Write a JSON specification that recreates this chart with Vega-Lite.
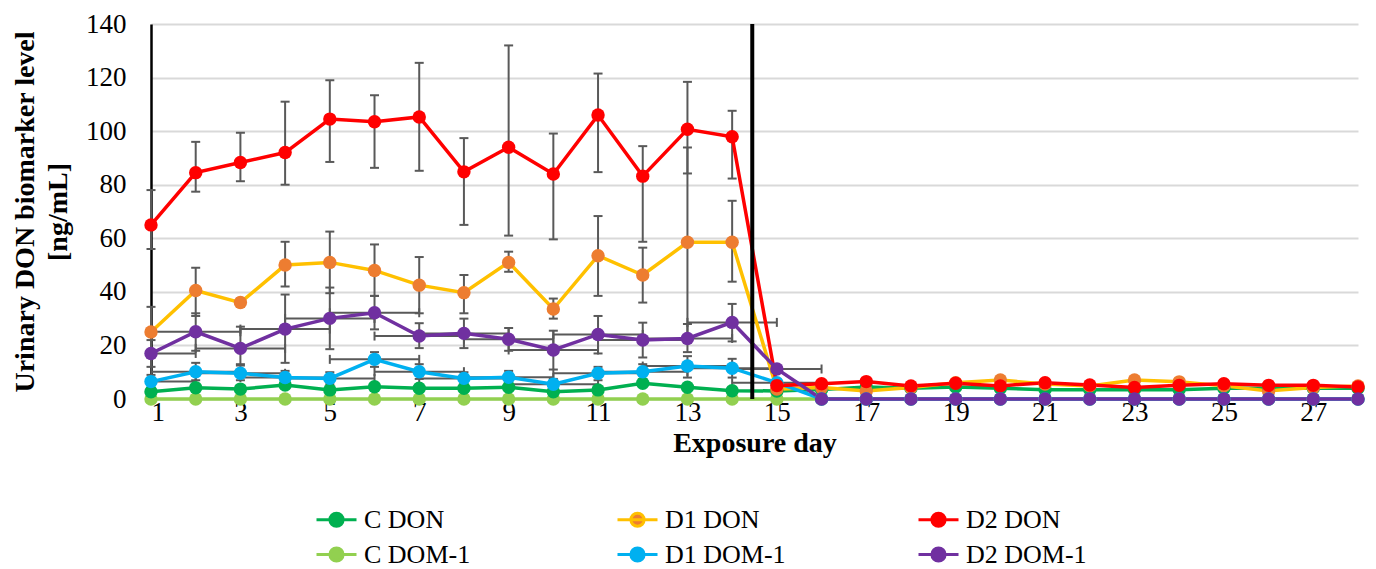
{
  "$schema": "https://vega.github.io/schema/vega-lite/v6.json",
  "width": 1207,
  "height": 375,
  "autosize": {"type": "none"},
  "padding": {"left": 151, "top": 24, "right": 18, "bottom": 170},
  "background": "white",
  "config": {
    "font": "Liberation Serif",
    "view": {"stroke": null},
    "legend": {"labelFont": "Liberation Serif"},
    "style": {"guide-label": {"font": "Liberation Serif"}, "guide-title": {"font": "Liberation Serif"}}
  },
  "datasets": {
    "divider": [{"day": 14.45}],
    "main": [
      {"series":"C DOM-1","day":1,"value":0},{"series":"C DOM-1","day":2,"value":0},{"series":"C DOM-1","day":3,"value":0},{"series":"C DOM-1","day":4,"value":0},{"series":"C DOM-1","day":5,"value":0},{"series":"C DOM-1","day":6,"value":0},{"series":"C DOM-1","day":7,"value":0},{"series":"C DOM-1","day":8,"value":0},{"series":"C DOM-1","day":9,"value":0},{"series":"C DOM-1","day":10,"value":0},{"series":"C DOM-1","day":11,"value":0},{"series":"C DOM-1","day":12,"value":0},{"series":"C DOM-1","day":13,"value":0},{"series":"C DOM-1","day":14,"value":0},{"series":"C DOM-1","day":15,"value":0},{"series":"C DOM-1","day":16,"value":0},{"series":"C DOM-1","day":17,"value":0},{"series":"C DOM-1","day":18,"value":0},{"series":"C DOM-1","day":19,"value":0},{"series":"C DOM-1","day":20,"value":0},{"series":"C DOM-1","day":21,"value":0},{"series":"C DOM-1","day":22,"value":0},{"series":"C DOM-1","day":23,"value":0},{"series":"C DOM-1","day":24,"value":0},{"series":"C DOM-1","day":25,"value":0},{"series":"C DOM-1","day":26,"value":0},{"series":"C DOM-1","day":27,"value":0},{"series":"C DOM-1","day":28,"value":0},

      {"series":"C DON","day":1,"value":2.7},{"series":"C DON","day":2,"value":4.2},{"series":"C DON","day":3,"value":3.7},{"series":"C DON","day":4,"value":5.2},{"series":"C DON","day":5,"value":3.4},{"series":"C DON","day":6,"value":4.6},{"series":"C DON","day":7,"value":4},{"series":"C DON","day":8,"value":4},{"series":"C DON","day":9,"value":4.4},{"series":"C DON","day":10,"value":2.7},{"series":"C DON","day":11,"value":3.4},{"series":"C DON","day":12,"value":5.9},{"series":"C DON","day":13,"value":4.4},{"series":"C DON","day":14,"value":3.1},{"series":"C DON","day":15,"value":3},{"series":"C DON","day":16,"value":3.5},{"series":"C DON","day":17,"value":4.5},{"series":"C DON","day":18,"value":4},{"series":"C DON","day":19,"value":4.5},{"series":"C DON","day":20,"value":4},{"series":"C DON","day":21,"value":3.5},{"series":"C DON","day":22,"value":3.5},{"series":"C DON","day":23,"value":3.5},{"series":"C DON","day":24,"value":3.5},{"series":"C DON","day":25,"value":4},{"series":"C DON","day":26,"value":4},{"series":"C DON","day":27,"value":4},{"series":"C DON","day":28,"value":4},

      {"series":"D1 DON","day":1,"value":25,"low":15.6,"high":34.4},{"series":"D1 DON","day":2,"value":40.5,"low":31,"high":49},{"series":"D1 DON","day":3,"value":36,"low":34.5,"high":37.5},{"series":"D1 DON","day":4,"value":50,"low":42,"high":58.7},{"series":"D1 DON","day":5,"value":51,"low":39.5,"high":62.5},{"series":"D1 DON","day":6,"value":48,"low":38.5,"high":57.7},{"series":"D1 DON","day":7,"value":42.5,"low":32,"high":53},{"series":"D1 DON","day":8,"value":39.7,"low":32,"high":46.3},{"series":"D1 DON","day":9,"value":51,"low":47.5,"high":55},{"series":"D1 DON","day":10,"value":33.6,"low":30,"high":37.5},{"series":"D1 DON","day":11,"value":53.5,"low":38.5,"high":68.3},{"series":"D1 DON","day":12,"value":46.3,"low":36,"high":56.5},{"series":"D1 DON","day":13,"value":58.5,"low":23.5,"high":93.9},{"series":"D1 DON","day":14,"value":58.5,"low":43.8,"high":74},{"series":"D1 DON","day":15,"value":3.7},{"series":"D1 DON","day":16,"value":4.3},{"series":"D1 DON","day":17,"value":3},{"series":"D1 DON","day":18,"value":4.3},{"series":"D1 DON","day":19,"value":6.1},{"series":"D1 DON","day":20,"value":7.1},{"series":"D1 DON","day":21,"value":5.6},{"series":"D1 DON","day":22,"value":4.9},{"series":"D1 DON","day":23,"value":7.1},{"series":"D1 DON","day":24,"value":6.4},{"series":"D1 DON","day":25,"value":4.9},{"series":"D1 DON","day":26,"value":3},{"series":"D1 DON","day":27,"value":4.3},{"series":"D1 DON","day":28,"value":4.9},

      {"series":"D1 DOM-1","day":1,"value":6.5,"low":4,"high":9,"dayLow":0,"dayHigh":2},{"series":"D1 DOM-1","day":2,"value":10.2,"low":7,"high":13.5,"dayLow":1,"dayHigh":3},{"series":"D1 DOM-1","day":3,"value":9.6,"low":7,"high":12.5,"dayLow":2,"dayHigh":4},{"series":"D1 DOM-1","day":4,"value":8,"low":5.5,"high":10.5,"dayLow":3,"dayHigh":5},{"series":"D1 DOM-1","day":5,"value":7.7,"low":5.5,"high":10,"dayLow":4,"dayHigh":6},{"series":"D1 DOM-1","day":6,"value":14.8,"low":12,"high":17.5,"dayLow":5,"dayHigh":7},{"series":"D1 DOM-1","day":7,"value":10.2,"low":7.5,"high":13,"dayLow":6,"dayHigh":8},{"series":"D1 DOM-1","day":8,"value":7.7,"low":5.5,"high":10,"dayLow":7,"dayHigh":9},{"series":"D1 DOM-1","day":9,"value":8.1,"low":6,"high":10.5,"dayLow":8,"dayHigh":10},{"series":"D1 DOM-1","day":10,"value":5.5,"low":3.5,"high":7.5,"dayLow":9,"dayHigh":11},{"series":"D1 DOM-1","day":11,"value":9.6,"low":7,"high":12,"dayLow":10,"dayHigh":12},{"series":"D1 DOM-1","day":12,"value":10.2,"low":7.5,"high":13,"dayLow":11,"dayHigh":13},{"series":"D1 DOM-1","day":13,"value":12.3,"low":8,"high":16,"dayLow":12,"dayHigh":14},{"series":"D1 DOM-1","day":14,"value":11.5,"low":8,"high":15,"dayLow":13,"dayHigh":15},{"series":"D1 DOM-1","day":15,"value":6.1,"dayLow":14,"dayHigh":16},{"series":"D1 DOM-1","day":16,"value":0},{"series":"D1 DOM-1","day":17,"value":0},{"series":"D1 DOM-1","day":18,"value":0},{"series":"D1 DOM-1","day":19,"value":0},{"series":"D1 DOM-1","day":20,"value":0},{"series":"D1 DOM-1","day":21,"value":0},{"series":"D1 DOM-1","day":22,"value":0},{"series":"D1 DOM-1","day":23,"value":0},{"series":"D1 DOM-1","day":24,"value":0},{"series":"D1 DOM-1","day":25,"value":0},{"series":"D1 DOM-1","day":26,"value":0},{"series":"D1 DOM-1","day":27,"value":0},{"series":"D1 DOM-1","day":28,"value":0},

      {"series":"D2 DON","day":1,"value":65,"low":56,"high":78},{"series":"D2 DON","day":2,"value":84.5,"low":77.4,"high":96},{"series":"D2 DON","day":3,"value":88.3,"low":81.3,"high":99.4},{"series":"D2 DON","day":4,"value":92,"low":80,"high":111},{"series":"D2 DON","day":5,"value":104.5,"low":88.5,"high":119},{"series":"D2 DON","day":6,"value":103.5,"low":86.3,"high":113.4},{"series":"D2 DON","day":7,"value":105.3,"low":85.2,"high":125.5},{"series":"D2 DON","day":8,"value":84.8,"low":65,"high":97.4},{"series":"D2 DON","day":9,"value":94,"low":61,"high":132},{"series":"D2 DON","day":10,"value":84,"low":59.6,"high":99.1},{"series":"D2 DON","day":11,"value":106,"low":84.7,"high":121.5},{"series":"D2 DON","day":12,"value":83.2,"low":58.7,"high":94.4},{"series":"D2 DON","day":13,"value":100.7,"low":84.2,"high":118.4},{"series":"D2 DON","day":14,"value":97.9,"low":82.3,"high":107.6},{"series":"D2 DON","day":15,"value":5},{"series":"D2 DON","day":16,"value":5.7},{"series":"D2 DON","day":17,"value":6.5},{"series":"D2 DON","day":18,"value":4.9},{"series":"D2 DON","day":19,"value":5.9},{"series":"D2 DON","day":20,"value":4.9},{"series":"D2 DON","day":21,"value":6.1},{"series":"D2 DON","day":22,"value":5.2},{"series":"D2 DON","day":23,"value":4.3},{"series":"D2 DON","day":24,"value":5.1},{"series":"D2 DON","day":25,"value":5.7},{"series":"D2 DON","day":26,"value":5.1},{"series":"D2 DON","day":27,"value":5.1},{"series":"D2 DON","day":28,"value":4.5},

      {"series":"D2 DOM-1","day":1,"value":17,"low":12,"high":22,"dayLow":0,"dayHigh":2},{"series":"D2 DOM-1","day":2,"value":25.1,"low":18,"high":32,"dayLow":1,"dayHigh":3},{"series":"D2 DOM-1","day":3,"value":18.9,"low":13,"high":27,"dayLow":2,"dayHigh":4},{"series":"D2 DOM-1","day":4,"value":26.1,"low":13.5,"high":39,"dayLow":3,"dayHigh":5},{"series":"D2 DOM-1","day":5,"value":30.1,"low":18.6,"high":41.6,"dayLow":4,"dayHigh":6},{"series":"D2 DOM-1","day":6,"value":32.2,"low":26,"high":38.5,"dayLow":5,"dayHigh":7},{"series":"D2 DOM-1","day":7,"value":23.5,"low":19,"high":28.3,"dayLow":6,"dayHigh":8},{"series":"D2 DOM-1","day":8,"value":24.5,"low":19,"high":30,"dayLow":7,"dayHigh":9},{"series":"D2 DOM-1","day":9,"value":22.3,"low":18,"high":26.5,"dayLow":8,"dayHigh":10},{"series":"D2 DOM-1","day":10,"value":18.3,"low":11,"high":25.5,"dayLow":9,"dayHigh":11},{"series":"D2 DOM-1","day":11,"value":24.1,"low":17,"high":31,"dayLow":10,"dayHigh":12},{"series":"D2 DOM-1","day":12,"value":22,"low":15.5,"high":28.5,"dayLow":11,"dayHigh":13},{"series":"D2 DOM-1","day":13,"value":22.6,"low":17.5,"high":28,"dayLow":12,"dayHigh":14},{"series":"D2 DOM-1","day":14,"value":28.6,"low":21.5,"high":35.5,"dayLow":13,"dayHigh":15},{"series":"D2 DOM-1","day":15,"value":11.2,"dayLow":14,"dayHigh":16},{"series":"D2 DOM-1","day":16,"value":0},{"series":"D2 DOM-1","day":17,"value":0},{"series":"D2 DOM-1","day":18,"value":0},{"series":"D2 DOM-1","day":19,"value":0},{"series":"D2 DOM-1","day":20,"value":0},{"series":"D2 DOM-1","day":21,"value":0},{"series":"D2 DOM-1","day":22,"value":0},{"series":"D2 DOM-1","day":23,"value":0},{"series":"D2 DOM-1","day":24,"value":0},{"series":"D2 DOM-1","day":25,"value":0},{"series":"D2 DOM-1","day":26,"value":0},{"series":"D2 DOM-1","day":27,"value":0},{"series":"D2 DOM-1","day":28,"value":0}
    ]
  },
  "data": {"name": "main"},
  "layer": [
    {
      "transform": [{"filter": "isValid(datum.high)"}],
      "mark": {"type": "rule", "color": "#595959", "strokeWidth": 2},
      "encoding": {
        "x": {"field": "day", "type": "quantitative", "scale": {"domain": [1, 28], "nice": false, "zero": false}},
        "y": {"field": "low", "type": "quantitative"},
        "y2": {"field": "high"}
      }
    },
    {
      "transform": [{"filter": "isValid(datum.high)"}],
      "mark": {"type": "tick", "orient": "horizontal", "color": "#595959", "size": 9, "thickness": 2, "opacity": 1},
      "encoding": {
        "x": {"field": "day", "type": "quantitative"},
        "y": {"field": "low", "type": "quantitative"}
      }
    },
    {
      "transform": [{"filter": "isValid(datum.high)"}],
      "mark": {"type": "tick", "orient": "horizontal", "color": "#595959", "size": 9, "thickness": 2, "opacity": 1},
      "encoding": {
        "x": {"field": "day", "type": "quantitative"},
        "y": {"field": "high", "type": "quantitative"}
      }
    },
    {
      "transform": [{"filter": "isValid(datum.dayHigh)"}],
      "mark": {"type": "rule", "color": "#595959", "strokeWidth": 2, "clip": true},
      "encoding": {
        "x": {"field": "dayLow", "type": "quantitative"},
        "x2": {"field": "dayHigh"},
        "y": {"field": "value", "type": "quantitative"}
      }
    },
    {
      "transform": [{"filter": "isValid(datum.dayHigh)"}],
      "mark": {"type": "tick", "orient": "vertical", "color": "#595959", "size": 9, "thickness": 2, "opacity": 1, "clip": true},
      "encoding": {
        "x": {"field": "dayLow", "type": "quantitative"},
        "y": {"field": "value", "type": "quantitative"}
      }
    },
    {
      "transform": [{"filter": "isValid(datum.dayHigh)"}],
      "mark": {"type": "tick", "orient": "vertical", "color": "#595959", "size": 9, "thickness": 2, "opacity": 1, "clip": true},
      "encoding": {
        "x": {"field": "dayHigh", "type": "quantitative"},
        "y": {"field": "value", "type": "quantitative"}
      }
    },
    {
      "mark": {"type": "line", "strokeWidth": 3.5},
      "encoding": {
        "x": {
          "field": "day", "type": "quantitative",
          "axis": {
            "values": [1,3,5,7,9,11,13,15,17,19,21,23,25,27],
            "grid": false, "ticks": false, "domain": false,
            "labelFontSize": 27, "labelColor": "#000", "labelPadding": 0,
            "title": "Exposure day", "titleFontSize": 28, "titleFontWeight": "bold", "titleColor": "#000", "titlePadding": 4
          }
        },
        "y": {
          "field": "value", "type": "quantitative",
          "scale": {"domain": [0, 140], "nice": false},
          "axis": {
            "values": [0,20,40,60,80,100,120,140],
            "grid": true, "gridColor": "#D9D9D9", "gridWidth": 2,
            "ticks": false, "domain": true, "domainColor": "#000", "domainWidth": 2.5,
            "labelFontSize": 27, "labelColor": "#000", "labelPadding": 25,
            "title": ["Urinary DON biomarker level", "[ng/mL]"],
            "titleFontSize": 28, "titleFontWeight": "bold", "titleColor": "#000", "titlePadding": 13, "titleLineHeight": 33
          }
        },
        "stroke": {
          "field": "series", "type": "nominal",
          "scale": {"domain": ["D2 DOM-1","D1 DOM-1","C DOM-1","D2 DON","D1 DON","C DON"], "range": ["#7030A0","#00B0F0","#92D050","#FF0000","#FFC000","#00B050"]},
          "legend": null
        },
        "order": {"field": "day", "type": "quantitative"}
      }
    },
    {
      "data": {"name": "divider"},
      "mark": {"type": "rule", "color": "#000", "strokeWidth": 4},
      "encoding": {"x": {"field": "day", "type": "quantitative"}}
    },
    {
      "mark": {"type": "point", "filled": true, "size": 180, "opacity": 1, "shape": "circle"},
      "encoding": {
        "x": {"field": "day", "type": "quantitative"},
        "y": {"field": "value", "type": "quantitative"},
        "color": {
          "field": "series", "type": "nominal",
          "scale": {"domain": ["C DON","D1 DON","D2 DON","C DOM-1","D1 DOM-1","D2 DOM-1"], "range": ["#00B050","#ED7D31","#FF0000","#92D050","#00B0F0","#7030A0"]},
          "legend": {
            "orient": "none", "legendX": 164, "legendY": 474,
            "direction": "horizontal", "columns": 3, "gridAlign": "all",
            "columnPadding": 126, "rowPadding": 0, "padding": 0,
            "title": null,
            "labelFontSize": 26, "labelFont": "Liberation Serif", "labelColor": "#000", "labelOffset": 6, "labelLimit": 300,
            "symbolType": "M-1,0L1,0M-0.33,0A0.33,0.33,0,1,1,0.33,0A0.33,0.33,0,1,1,-0.33,0Z",
            "symbolSize": 1600, "symbolStrokeWidth": 3, "symbolOpacity": 1,
            "encode": {
              "symbols": {"update": {"stroke": {"scale": "stroke", "field": "value"}, "fill": {"scale": "color", "field": "value"}, "opacity": {"value": 1}}},
              "labels": {"enter": {"font": {"value": "Liberation Serif"}}, "update": {"font": {"value": "Liberation Serif"}}}
            }
          }
        }
      }
    }
  ]
}
